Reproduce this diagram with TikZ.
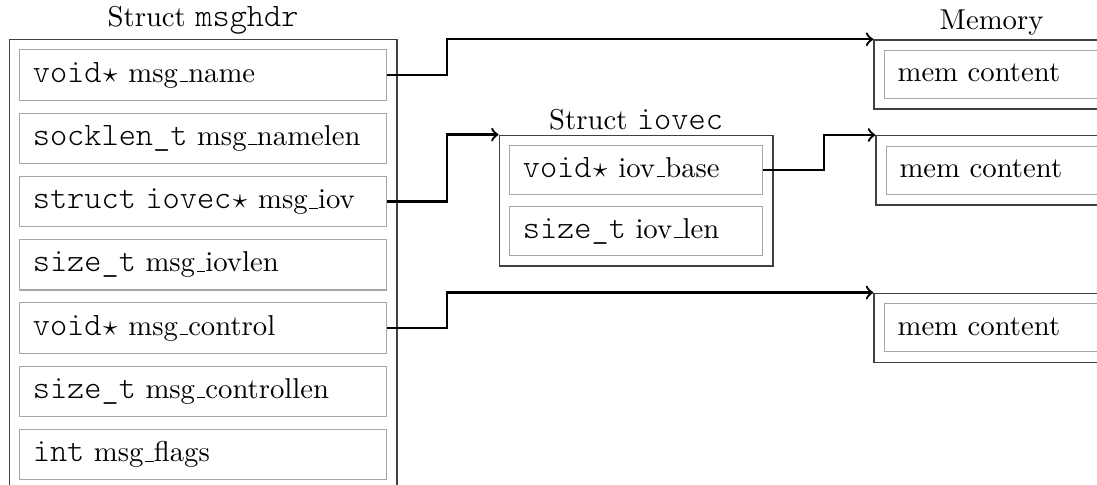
\documentclass[tikz,border=0pt]{standalone}
\usepackage{fontspec}
\setmonofont{Latin Modern Mono Light}[Scale=1.14]
\usetikzlibrary{fit}
% underscore drawn as a rule on the baseline
\newcommand{\usc}{\leavevmode\kern.06em\vbox{\hrule width.3em}}
% pointer star, one monospace cell wide
\newcommand{\ptrstar}{\makebox[5.99pt]{$\star$}}
\begin{document}
\begin{tikzpicture}[x=0.3484pt, y=-0.3484pt,
  field/.style={draw=black!35, line width=0.4pt, anchor=north west,
    inner xsep=4.53pt, inner ysep=0pt, align=left,
    text height=7pt, text depth=2pt},
  hdrfield/.style={field, text width=118.6pt, minimum height=17.56pt},
  iovfield/.style={field, text width=78.88pt, minimum height=16.97pt},
  memfield/.style={field, text width=65.5pt, minimum height=16.72pt},
  group/.style={draw=black!75, line width=0.5pt, inner sep=3.48pt},
  grouptitle/.style={inner sep=1.2pt},
  conn/.style={draw, thick, ->},
]
\useasboundingbox (0,0) rectangle (1097,485);
\clip (0,0) rectangle (1097,485);

% struct msghdr fields
\node[hdrfield] (h1) at (19.3,49.3)   {\texttt{void}\ptrstar\ msg\usc name};
\node[hdrfield] (h2) at (19.3,112.55) {\texttt{socklen\_t} msg\usc namelen};
\node[hdrfield] (h3) at (19.3,175.8)  {\texttt{struct iovec}\ptrstar\ msg\usc iov};
\node[hdrfield] (h4) at (19.3,239.05) {\texttt{size\_t} msg\usc iovlen};
\node[hdrfield] (h5) at (19.3,302.3)  {\texttt{void}\ptrstar\ msg\usc control};
\node[hdrfield] (h6) at (19.3,365.55) {\texttt{size\_t} msg\usc controllen};
\node[hdrfield] (h7) at (19.3,428.8)  {\texttt{int} msg\usc flags};
\node[group, fit=(h1)(h7),
  label={[grouptitle]above:Struct \texttt{msghdr}}] (msghdr) {};

% struct iovec fields
\node[iovfield] (i1) at (509.3,145.3) {\texttt{void}\ptrstar\ iov\usc base};
\node[iovfield] (i2) at (509.3,206.2) {\texttt{size\_t} iov\usc len};
\node[group, fit=(i1)(i2),
  label={[grouptitle]above:Struct \texttt{iovec}}] (iovec) {};

% memory blocks
\node[memfield] (m1) at (884,50)    {mem content};
\node[group, fit=(m1), label={[grouptitle]above:Memory}] (mem1) {};
\node[memfield] (m2) at (886,145.7) {mem content};
\node[group, fit=(m2)] (mem2) {};
\node[memfield] (m3) at (884,303.3) {mem content};
\node[group, fit=(m3)] (mem3) {};

% pointers
\draw[conn] (h1.east) -- ++(60,0) |- (mem1.north west);
\draw[conn] (h3.east) -- ++(60,0) |- (iovec.north west);
\draw[conn] (i1.east) -- ++(61,0) |- (mem2.north west);
\draw[conn] (h5.east) -- ++(60,0) |- (mem3.north west);
\end{tikzpicture}
\end{document}
